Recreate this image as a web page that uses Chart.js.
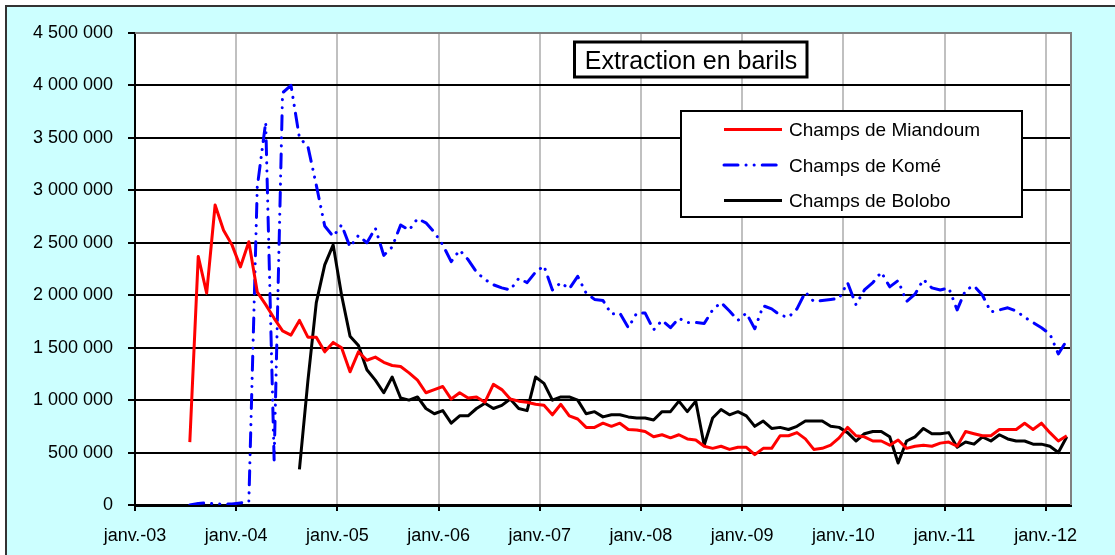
<!DOCTYPE html>
<html><head><meta charset="utf-8">
<script src="https://cdn.jsdelivr.net/npm/chart.js@4.4.0/dist/chart.umd.min.js"></script>
<style>html,body{margin:0;padding:0;background:#fff;}#wrap{position:relative;width:1115px;height:555px;}</style>
</head><body><div id="wrap"><canvas id="c" width="1115" height="555"></canvas></div>
<script>
// Monthly categories: July 2003 .. March 2012
const startYear = 2003, startMonth = 7, monthCount = 105;
const categories = [];
for (let k = 0; k < monthCount; k++) {
  const m = startMonth - 1 + k;
  categories.push((startYear + Math.floor(m / 12)) + '-' + String(m % 12 + 1).padStart(2, '0'));
}
const seriesNames = ['Champs de Miandoum', 'Champs de Komé', 'Champs de Bolobo'];
const tickLabels = ['janv.-03','janv.-04','janv.-05','janv.-06','janv.-07','janv.-08','janv.-09','janv.-10','janv.-11','janv.-12'];
const titleText = 'Extraction en barils';

const miandoum = [600000, 2370000, 2020000, 2860000, 2620000, 2480000, 2270000, 2510000, 2030000, 1910000,
 1780000, 1660000, 1620000, 1760000, 1600000, 1600000, 1460000, 1550000, 1500000, 1270000,
 1460000, 1380000, 1410000, 1360000, 1330000, 1320000, 1260000, 1190000, 1070000, 1100000,
 1130000, 1010000, 1070000, 1020000, 1030000, 980000, 1150000, 1100000, 1010000, 990000,
 980000, 960000, 950000, 860000, 960000, 850000, 820000, 740000, 740000, 780000,
 750000, 780000, 720000, 715000, 700000, 650000, 670000, 640000, 670000, 630000,
 620000, 560000, 540000, 560000, 530000, 550000, 550000, 480000, 540000, 540000,
 660000, 660000, 690000, 630000, 530000, 540000, 570000, 640000, 740000, 660000,
 650000, 610000, 610000, 570000, 620000, 540000, 560000, 570000, 560000, 590000,
 600000, 560000, 700000, 680000, 660000, 660000, 720000, 720000, 720000, 780000,
 720000, 780000, 690000, 610000, 660000];

const kome = [0, 15000, 20000, 10000, 8000, 10000, 20000, 30000, 3030000, 3650000,
 430000, 3930000, 4000000, 3500000, 3420000, 3050000, 2660000, 2560000, 2670000, 2460000,
 2570000, 2500000, 2640000, 2380000, 2460000, 2670000, 2620000, 2730000, 2690000, 2600000,
 2480000, 2320000, 2430000, 2340000, 2220000, 2150000, 2100000, 2070000, 2050000, 2160000,
 2120000, 2220000, 2280000, 2050000, 2120000, 2060000, 2180000, 2020000, 1960000, 1950000,
 1820000, 1830000, 1690000, 1830000, 1830000, 1670000, 1760000, 1690000, 1780000, 1740000,
 1740000, 1730000, 1860000, 1930000, 1850000, 1760000, 1830000, 1680000, 1900000, 1870000,
 1810000, 1790000, 1870000, 2030000, 1940000, 1950000, 1960000, 1970000, 2120000, 1910000,
 2050000, 2120000, 2220000, 2080000, 2140000, 1940000, 2010000, 2150000, 2070000, 2050000,
 2070000, 1860000, 2050000, 2090000, 2000000, 1840000, 1860000, 1880000, 1850000, 1790000,
 1740000, 1690000, 1630000, 1440000, 1570000];

const bolobo = [null, null, null, null, null, null, null, null, null, null, null, null, null,
 340000, 1180000, 1930000, 2290000, 2480000, 2000000, 1610000,
 1520000, 1290000, 1190000, 1070000, 1220000, 1020000, 1000000, 1030000, 920000, 870000,
 900000, 780000, 850000, 850000, 920000, 970000, 920000, 950000, 1010000, 920000,
 900000, 1220000, 1160000, 1000000, 1030000, 1030000, 1000000, 870000, 890000, 840000,
 860000, 860000, 840000, 830000, 830000, 810000, 890000, 890000, 990000, 890000,
 990000, 570000, 830000, 910000, 860000, 890000, 850000, 750000, 800000, 730000,
 740000, 720000, 750000, 800000, 800000, 800000, 750000, 740000, 690000, 610000,
 680000, 700000, 700000, 650000, 400000, 610000, 650000, 730000, 680000, 680000,
 690000, 550000, 600000, 580000, 650000, 610000, 670000, 630000, 610000, 610000,
 580000, 580000, 560000, 500000, 650000];

// position on the month axis (months since janv.-03, point in middle of month)
function monthPos(cat) {
  const [y, m] = cat.split('-').map(Number);
  return (y - 2003) * 12 + (m - 1) + 0.5;
}
function toPoints(arr) { return categories.map((c, k) => ({ x: monthPos(c), y: arr[k] })); }
function fmt(v) { return String(Math.round(v)).replace(/\B(?=(\d{3})+(?!\d))/g, ' '); }

const FONT = '"Liberation Sans", Arial, Helvetica, sans-serif';
Chart.defaults.font.family = FONT;
Chart.defaults.color = '#000';

const framePlugin = {
  id: 'frame',
  beforeDraw(chart) {
    const c = chart.ctx, a = chart.chartArea;
    c.save();
    c.fillStyle = '#ffffff'; c.fillRect(0, 0, chart.width, chart.height);
    c.fillStyle = '#ccffff'; c.fillRect(6, 6, chart.width, chart.height);
    c.strokeStyle = '#333333'; c.lineWidth = 2; c.strokeRect(6, 6, chart.width + 10, chart.height + 10);
    c.fillStyle = '#ffffff'; c.fillRect(a.left, a.top, a.right - a.left, a.bottom - a.top);
    c.restore();
  },
  afterDraw(chart) {
    const c = chart.ctx, a = chart.chartArea;
    c.save();
    // plot area border (top / right)
    c.strokeStyle = '#808080'; c.lineWidth = 2;
    c.beginPath(); c.moveTo(a.left, a.top); c.lineTo(a.right, a.top); c.lineTo(a.right, a.bottom); c.stroke();
    // title box
    c.fillStyle = '#fff'; c.fillRect(574.5, 42, 232.5, 35);
    c.strokeStyle = '#000'; c.lineWidth = 3; c.strokeRect(574.5, 42, 232.5, 35);
    c.fillStyle = '#000'; c.font = '25px ' + FONT; c.textAlign = 'center'; c.textBaseline = 'alphabetic';
    c.fillText(titleText, 691, 69);
    // legend box
    c.fillStyle = '#fff'; c.fillRect(681, 111, 341, 106);
    c.strokeStyle = '#000'; c.lineWidth = 2; c.strokeRect(681, 111, 341, 106);
    const rows = [129.5, 165, 200.5];
    chart.data.datasets.forEach((ds, i) => {
      c.strokeStyle = ds.borderColor; c.lineWidth = 3;
      c.setLineDash(ds.borderDash || []); c.lineCap = ds.borderCapStyle || 'butt';
      c.beginPath(); c.moveTo(724, rows[i]); c.lineTo(782, rows[i]); c.stroke();
      c.setLineDash([]); c.lineCap = 'butt';
      c.fillStyle = '#000'; c.font = '19px ' + FONT; c.textAlign = 'left'; c.textBaseline = 'alphabetic';
      c.fillText(ds.label, 789, rows[i] + 6.7);
    });
    c.restore();
  }
};

new Chart(document.getElementById('c').getContext('2d'), {
  type: 'line',
  data: {
    datasets: [
      { label: seriesNames[0], data: toPoints(miandoum), borderColor: '#ff0000', borderWidth: 3,
        pointRadius: 0, tension: 0, fill: false, borderJoinStyle: 'round' },
      { label: seriesNames[1], data: toPoints(kome), borderColor: '#0000ff', borderWidth: 3,
        borderDash: [14, 8, 0.1, 8, 0.1, 8], borderCapStyle: 'round',
        pointRadius: 0, tension: 0, fill: false, borderJoinStyle: 'round' },
      { label: seriesNames[2], data: toPoints(bolobo), borderColor: '#000000', borderWidth: 3,
        pointRadius: 0, tension: 0, fill: false, borderJoinStyle: 'round', spanGaps: false }
    ]
  },
  options: {
    responsive: false, animation: false, devicePixelRatio: 1,
    layout: { padding: { left: 0, top: 33, right: 44, bottom: 0 } },
    plugins: { legend: { display: false }, title: { display: false }, tooltip: { enabled: false } },
    scales: {
      x: {
        type: 'linear', min: 0, max: 111,
        afterBuildTicks: (s) => { s.ticks = tickLabels.map((_, i) => ({ value: i * 12 })); },
        afterFit: (s) => { s.height = 50; s.paddingLeft = 0; s.paddingRight = 0; },
        ticks: { callback: (v) => tickLabels[Math.round(v / 12)], font: { size: 18 }, color: '#000',
                 padding: 14, maxRotation: 0, autoSkip: false },
        grid: { color: '#c0c0c0', lineWidth: 2, tickColor: '#000', tickWidth: 2, tickLength: 6, drawTicks: true },
        border: { color: '#000', width: 3 }
      },
      y: {
        min: 0, max: 4500000,
        afterFit: (s) => { s.width = 135; },
        ticks: { stepSize: 500000, callback: (v) => fmt(v), font: { size: 18 }, color: '#000', padding: 15 },
        grid: { color: '#000', lineWidth: 2, tickColor: '#000', tickWidth: 2, tickLength: 7 },
        border: { color: '#000', width: 2 }
      }
    }
  },
  plugins: [framePlugin]
});
</script></body></html>
